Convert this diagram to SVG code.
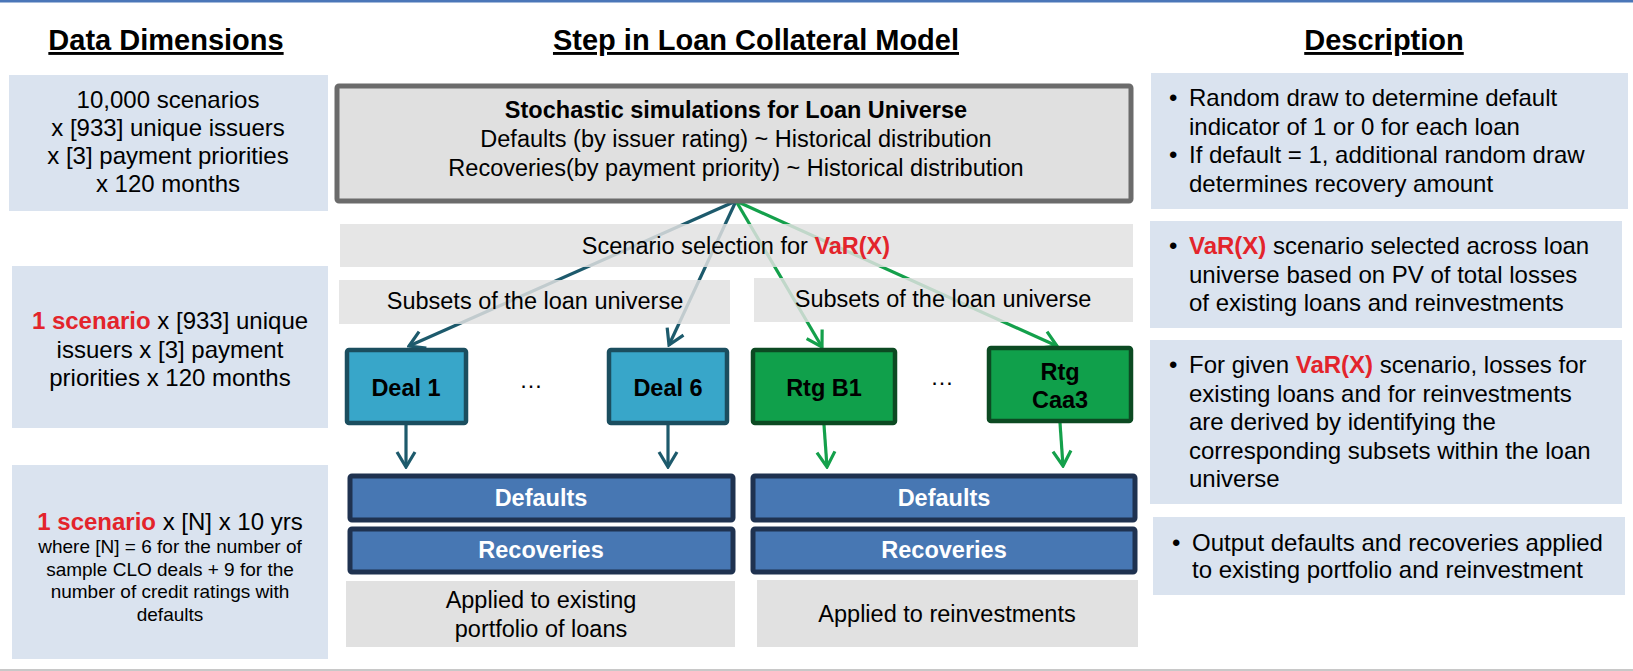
<svg xmlns="http://www.w3.org/2000/svg" width="1633" height="671" viewBox="0 0 1633 671">
<defs>
<style>
text{font-family:"Liberation Sans",Arial,sans-serif;fill:#000}
.title{font-size:29px;font-weight:bold;text-anchor:middle;text-decoration:underline}
.lt{font-size:24px;text-anchor:middle}
.sm{font-size:19px;text-anchor:middle}
.mt{font-size:23.5px;text-anchor:middle}
.rt{font-size:24px}
.red{fill:#e3242b;font-weight:bold}
.b{font-weight:bold}
.info{fill:#dae3ef}
.bar{fill:#e1e1e1;fill-opacity:0.84}
.gray{fill:#e1e1e1}
.deal{fill:#38a6c9;stroke:#1b4e5f;stroke-width:4.5}
.rtg{fill:#10a04b;stroke:#0c4a22;stroke-width:4.5}
.out{fill:#4777b3;stroke:#1f3250;stroke-width:5}
.wt{fill:#fff;font-size:23.5px;font-weight:bold;text-anchor:middle}
.nt{font-size:23.5px;font-weight:bold;text-anchor:middle}
.teal{stroke:#1d5a6c;stroke-width:3.2;fill:none;marker-end:url(#ah-teal)}
.grn{stroke:#14a04b;stroke-width:3.2;fill:none;marker-end:url(#ah-grn)}
</style>
<marker id="ah-teal" viewBox="-18 -12 20 24" refX="0" refY="0" markerWidth="20" markerHeight="24" orient="auto" markerUnits="userSpaceOnUse"><path d="M-15,-9 L0,0 L-15,9" fill="none" stroke="#1d5a6c" stroke-width="3.2"/></marker>
<marker id="ah-grn" viewBox="-18 -12 20 24" refX="0" refY="0" markerWidth="20" markerHeight="24" orient="auto" markerUnits="userSpaceOnUse"><path d="M-15,-9 L0,0 L-15,9" fill="none" stroke="#14a04b" stroke-width="3.2"/></marker>
</defs>
<rect width="1633" height="671" fill="#fff"/>
<rect x="0" y="0" width="1633" height="2.5" fill="#4a76b8"/>
<rect x="0" y="669" width="1633" height="2" fill="#c8c8c8"/>

<g id="titles">
<text class="title" x="166" y="50">Data Dimensions</text>
<text class="title" x="756" y="50">Step in Loan Collateral Model</text>
<text class="title" x="1384" y="50">Description</text>
</g>

<!-- Left column -->
<g id="dim1">
<rect class="info" x="9" y="75" width="319" height="136"/>
<text class="lt" x="168" y="108">10,000 scenarios</text>
<text class="lt" x="168" y="136">x [933] unique issuers</text>
<text class="lt" x="168" y="164">x [3] payment priorities</text>
<text class="lt" x="168" y="192">x 120 months</text>
</g>
<g id="dim2">
<rect class="info" x="12" y="266" width="316" height="162"/>
<text class="lt" x="170" y="329"><tspan class="red">1 scenario</tspan> x [933] unique</text>
<text class="lt" x="170" y="358">issuers x [3] payment</text>
<text class="lt" x="170" y="386">priorities x 120 months</text>
</g>
<g id="dim3">
<rect class="info" x="12" y="465" width="316" height="194"/>
<text class="lt" x="170" y="530"><tspan class="red">1 scenario</tspan> x [N] x 10 yrs</text>
<text class="sm" x="170" y="553">where [N] = 6 for the number of</text>
<text class="sm" x="170" y="576">sample CLO deals + 9 for the</text>
<text class="sm" x="170" y="598">number of credit ratings with</text>
<text class="sm" x="170" y="621">defaults</text>
</g>

<!-- Connectors (drawn beneath translucent bars) -->
<g id="connectors">
<path class="teal" d="M736,201 L409,346"/>
<path class="teal" d="M736,201 L669,345"/>
<path class="grn" d="M736,201 L822,347"/>
<path class="grn" d="M736,201 L1057,346"/>
<path class="teal" d="M406,425 L406,467"/>
<path class="teal" d="M668,425 L668,467"/>
<path class="grn" d="M824,425 L827,467"/>
<path class="grn" d="M1060,423 L1063,466"/>
</g>

<!-- Middle column -->
<g id="sim">
<rect x="337" y="86" width="794" height="115" rx="2" fill="#e0e0e0" stroke="#6b6b6b" stroke-width="5"/>
<text class="mt b" x="736" y="118">Stochastic simulations for Loan Universe</text>
<text class="mt" x="736" y="147">Defaults (by issuer rating) ~ Historical distribution</text>
<text class="mt" x="736" y="176">Recoveries(by payment priority) ~ Historical distribution</text>
</g>
<g id="scenario">
<rect class="bar" x="340" y="224" width="793" height="43"/>
<text class="mt" x="736" y="254">Scenario selection for <tspan class="red">VaR(X)</tspan></text>
</g>
<g id="subsets-left">
<rect class="bar" x="339" y="280" width="391" height="44"/>
<text class="mt" x="535" y="309">Subsets of the loan universe</text>
</g>
<g id="subsets-right">
<rect class="bar" x="754" y="278" width="379" height="44"/>
<text class="mt" x="943" y="307">Subsets of the loan universe</text>
</g>
<g id="deal1">
<rect class="deal" x="347" y="350" width="119" height="73" rx="2"/>
<text class="nt" x="406" y="396">Deal 1</text>
</g>
<g id="dots-left"><text class="mt" x="531" y="388" fill="#333">…</text></g>
<g id="deal6">
<rect class="deal" x="609" y="350" width="118" height="73" rx="2"/>
<text class="nt" x="668" y="396">Deal 6</text>
</g>
<g id="rtgb1">
<rect class="rtg" x="753" y="350" width="142" height="73" rx="2"/>
<text class="nt" x="824" y="396">Rtg B1</text>
</g>
<g id="dots-right"><text class="mt" x="942" y="385" fill="#333">…</text></g>
<g id="rtgcaa3">
<rect class="rtg" x="989" y="348" width="142" height="73" rx="2"/>
<text class="nt" x="1060" y="380">Rtg</text>
<text class="nt" x="1060" y="408">Caa3</text>
</g>
<g id="defaults-left">
<rect class="out" x="350" y="476" width="383" height="44" rx="2"/>
<text class="wt" x="541" y="506">Defaults</text>
</g>
<g id="recoveries-left">
<rect class="out" x="350" y="529" width="383" height="43" rx="2"/>
<text class="wt" x="541" y="558">Recoveries</text>
</g>
<g id="defaults-right">
<rect class="out" x="753" y="476" width="382" height="44" rx="2"/>
<text class="wt" x="944" y="506">Defaults</text>
</g>
<g id="recoveries-right">
<rect class="out" x="753" y="529" width="382" height="43" rx="2"/>
<text class="wt" x="944" y="558">Recoveries</text>
</g>
<g id="applied-left">
<rect class="gray" x="346" y="581" width="389" height="66"/>
<text class="mt" x="541" y="608">Applied to existing</text>
<text class="mt" x="541" y="637">portfolio of loans</text>
</g>
<g id="applied-right">
<rect class="gray" x="757" y="580" width="381" height="67"/>
<text class="mt" x="947" y="622">Applied to reinvestments</text>
</g>

<!-- Right column -->
<g id="desc1">
<rect class="info" x="1151" y="73" width="477" height="136"/>
<text class="rt" x="1169" y="106">•</text>
<text class="rt" x="1189" y="106">Random draw to determine default</text>
<text class="rt" x="1189" y="135">indicator of 1 or 0 for each loan</text>
<text class="rt" x="1169" y="163">•</text>
<text class="rt" x="1189" y="163">If default = 1, additional random draw</text>
<text class="rt" x="1189" y="192">determines recovery amount</text>
</g>
<g id="desc2">
<rect class="info" x="1150" y="221" width="472" height="107"/>
<text class="rt" x="1169" y="254">•</text>
<text class="rt" x="1189" y="254"><tspan class="red">VaR(X)</tspan> scenario selected across loan</text>
<text class="rt" x="1189" y="283">universe based on PV of total losses</text>
<text class="rt" x="1189" y="311">of existing loans and reinvestments</text>
</g>
<g id="desc3">
<rect class="info" x="1150" y="340" width="472" height="164"/>
<text class="rt" x="1169" y="373">•</text>
<text class="rt" x="1189" y="373">For given <tspan class="red">VaR(X)</tspan> scenario, losses for</text>
<text class="rt" x="1189" y="402">existing loans and for reinvestments</text>
<text class="rt" x="1189" y="430">are derived by identifying the</text>
<text class="rt" x="1189" y="459">corresponding subsets within the loan</text>
<text class="rt" x="1189" y="487">universe</text>
</g>
<g id="desc4">
<rect class="info" x="1153" y="517" width="472" height="78"/>
<text class="rt" x="1172" y="551">•</text>
<text class="rt" x="1192" y="551">Output defaults and recoveries applied</text>
<text class="rt" x="1192" y="578">to existing portfolio and reinvestment</text>
</g>
</svg>
